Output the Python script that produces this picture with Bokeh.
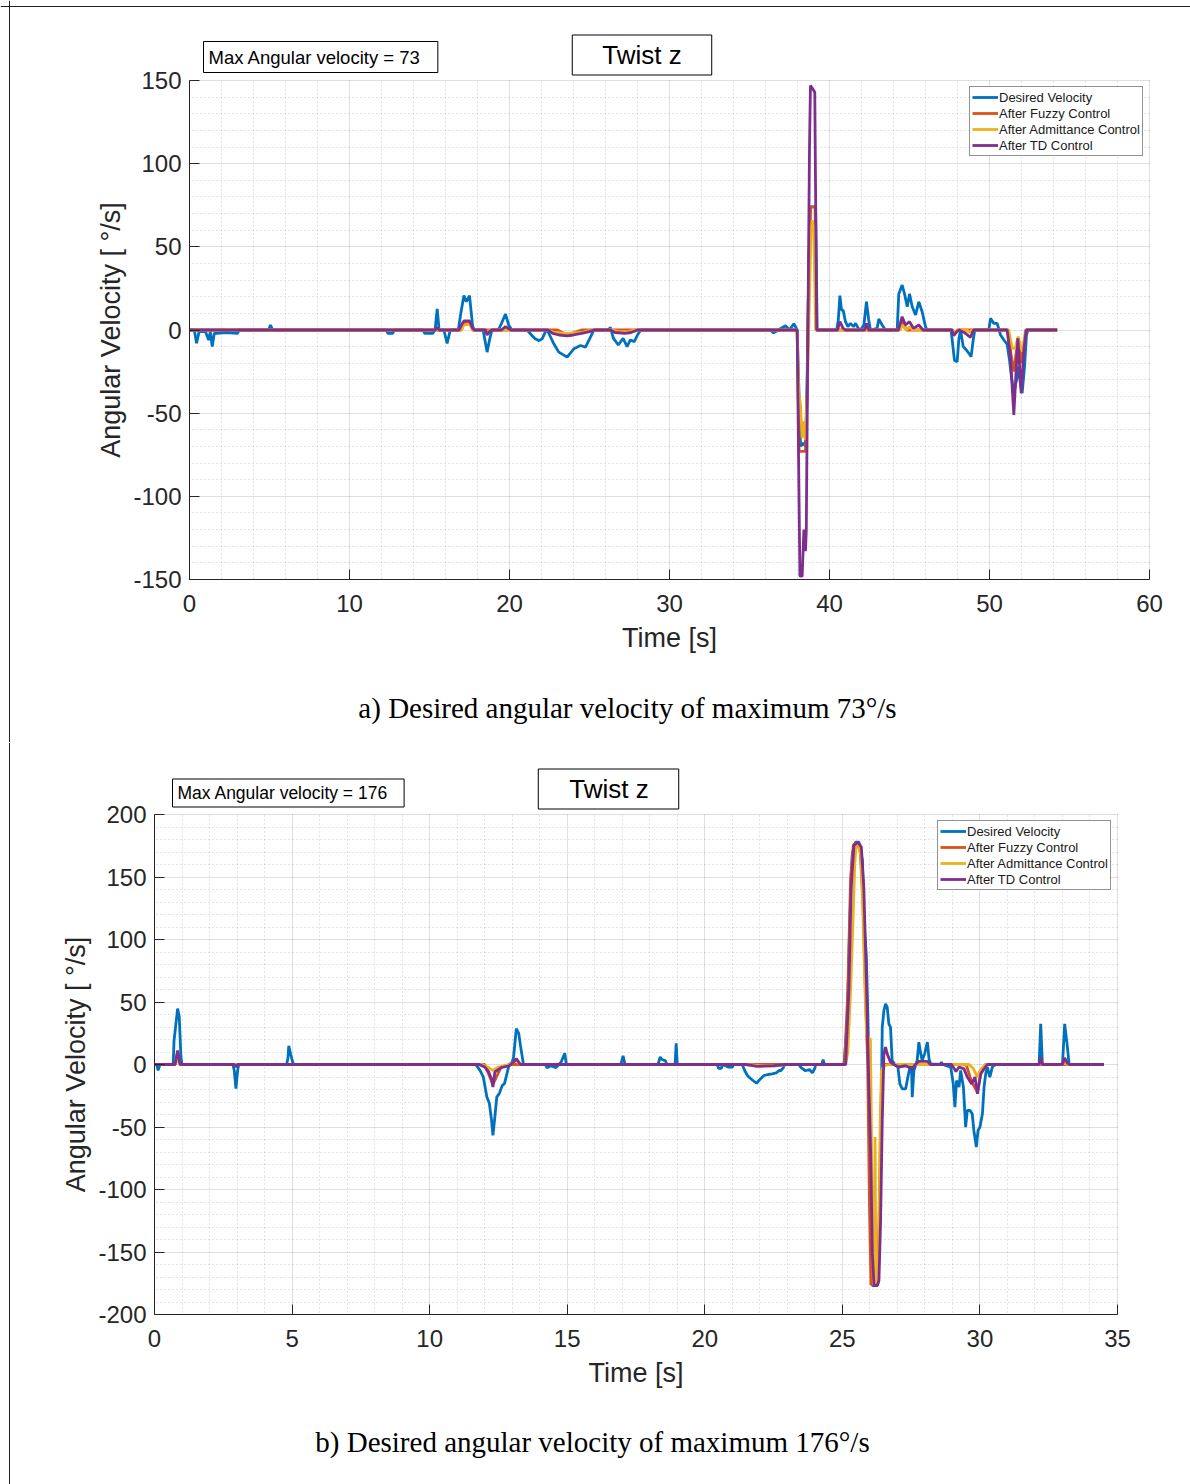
from bokeh.plotting import figure
from bokeh.models import Label, FixedTicker, Range1d, BoxAnnotation, Span
from bokeh.embed import file_html
from bokeh.resources import INLINE

# ---------------- data : panel a ----------------
a_desired_t = [0, 0.3, 0.44, 0.6, 1.0, 1.2, 1.3, 1.42, 1.55, 1.7, 2.3, 3.0, 3.1, 4.95, 5.06, 5.2, 12.3, 12.4, 12.7, 12.8,
               14.6, 14.7, 15.2, 15.35, 15.48, 15.6, 15.9, 16.1, 16.3, 16.8, 16.95, 17.15, 17.3, 17.5, 17.7, 17.8,
               18.35, 18.6, 18.75, 18.9, 19.3, 19.5, 19.75, 19.95, 20.15, 21.1, 21.4, 21.6, 21.85, 22.04, 22.25, 22.36,
               22.77, 23.08, 23.6, 24.02, 24.44, 24.75, 25.06, 25.27, 26.2, 26.3, 26.5, 26.8, 27.1, 27.35, 27.55, 27.8,
               28.0, 28.2, 36.3, 36.5, 36.8, 37.25, 37.5, 37.77, 37.98, 38.1, 38.19, 38.35, 38.5, 38.6, 38.71, 38.81,
               39.13, 39.23, 40.45, 40.55, 40.65, 40.75, 40.85, 41.0, 41.15, 41.31, 41.5, 41.63, 41.8, 41.94, 42.15,
               42.31, 42.45, 42.56, 42.98, 43.08, 43.29, 43.5, 44.23, 44.33, 44.54, 44.69, 44.86, 45.0, 45.17, 45.38,
               45.58, 45.79, 46.0, 46.1, 47.6, 47.67, 47.81, 47.98, 48.08, 48.19, 48.36, 48.55, 48.71, 48.85, 48.98,
               49.08, 49.96, 50.06, 50.27, 50.48, 50.69, 50.9, 51.1, 51.25, 51.37, 51.52, 51.69, 51.79, 51.94, 52.04,
               52.19, 52.31, 52.4, 54.23]
a_desired_v = [0, 0, -8, -1, -1, -6, -1, -10, -2, -2, -1.5, -2, 0, 0, 3, 0, 0, -2, -2, 0,
               0, -2, -2, 0, 12.7, 0, 0, -8, 0, 0, 9.6, 20.7, 17, 20.7, 2, 0,
               0, -13.3, -6, 0, 0, 4, 9.6, 3, 0, 0, -3.3, -5.3, -6.4, -5.3, -1, 0,
               -8.3, -13.3, -16.3, -11.3, -9.3, -10.3, -4.3, 0, 0, 1.6, -5, -9, -5, -10, -6, -7,
               -3, 0, 0, -1.7, 0, 2.6, 0, 3.8, 0, -40, -70, -68, -70, -30, 40, 74,
               74, 0, 0, 6, 20.7, 12, 12, 5, 2, 4, 2, 4, 1, 0, 3,
               17, 6, 0, 1, 6.6, 3, 0, 0, 21.7, 27, 21.7, 14, 21.7, 14, 9,
               17, 11, 2, 0, 0, -6, -18.3, -19, -6, 0, -10, -12, -14, -16, -6,
               0, 0, 7, 4, 4, -3, -6, -8.5, -18, -28, -38, -30, -22, -33, -38,
               -22, -3, 0, 0]

a_fuzzy_t = [0, 17.0, 17.15, 17.5, 17.7, 23.0, 23.6, 24.5, 37.98, 38.1, 38.5, 38.6, 38.71, 38.81, 39.1, 39.18,
             44.4, 44.54, 44.8, 47.7, 47.8, 48.0, 51.15, 51.35, 51.52, 51.69, 51.77, 51.9, 51.98, 52.15, 52.29, 54.23]
a_fuzzy_v = [0, 0, 4.5, 4.5, 0, 0, -3, 0, 0, -73, -73, -40, 40, 74, 74, 0,
             0, 6, 0, 0, -3, 0, 0, -15, -25, -12, -5, -12, -20, -8, 0, 0]

a_admit_t = [0, 17.0, 17.15, 17.5, 17.7, 18.5, 18.6, 18.8, 22.4, 22.8, 23.6, 24.5, 25.1, 26.4, 26.8, 27.4, 27.8,
             37.98, 38.07, 38.19, 38.29, 38.4, 38.5, 38.6, 38.67, 38.75, 38.85, 38.92, 39.02, 39.13,
             44.4, 44.54, 44.8, 45.0, 45.2, 47.7, 47.81, 48.0, 48.6, 48.75, 48.9, 51.2, 51.42, 51.6, 51.79, 51.98,
             52.06, 52.25, 54.23]
a_admit_v = [0, 0, 3, 3.5, 0, 0, -1, 0, 0, -1.5, -2, -1.5, 0, 0, -1, -1, 0,
             0, -37, -45, -65, -55, -66, -40, -12, 20, 60, 66, 62, 0,
             0, 3, 0, 2, 0, 0, -1.4, 0, 0, -1.5, 0, 0, -11, -11, -4, -11,
             -13, 0, 0]

a_td_t = [0, 15.35, 15.48, 15.6, 16.85, 17.0, 17.15, 17.5, 17.7, 17.8, 18.5, 18.6, 18.75, 18.9, 19.5, 19.75, 20.1,
          22.4, 22.7, 23.1, 23.6, 24.0, 24.5, 25.0, 25.3, 26.3, 26.6, 27.2, 27.6, 28.0, 37.98, 38.15, 38.29, 38.4,
          38.5, 38.55, 38.65, 38.75, 38.81, 38.95, 39.08, 39.15, 39.2, 40.5, 40.65, 40.85, 41.0, 42.2, 42.31, 42.45,
          44.3, 44.54, 44.75, 45.0, 45.25, 45.58, 45.85, 47.65, 47.75, 47.95, 48.1, 48.5, 48.81, 49.0, 51.1, 51.3,
          51.52, 51.69, 51.77, 51.87, 51.98, 52.15, 52.29, 54.23]
a_td_v = [0, 0, 1.5, 0, 0, 3, 5.5, 5.5, 1, 0, 0, -3, -1, 0, 0, 2, 0,
          0, -2, -3, -3.5, -3, -2, -1, 0, 0, -1.5, -2, -1.5, 0, 0, -148, -148, -120,
          -133, -120, 0, 110, 147, 145, 143, 60, 0, 0, 5, 1, 0, 0, 4, 0,
          0, 8, 3, 5, 1, 3, 0, 0, -3.4, -1, 0, -2, -4.4, 0, 0, -15,
          -51, -20, -5, -20, -38, -12, 0, 0]

a_x_ticks = [0, 10, 20, 30, 40, 50, 60]
a_x_labels = ["0", "10", "20", "30", "40", "50", "60"]
a_y_ticks = [-150, -100, -50, 0, 50, 100, 150]
a_y_labels = ["-150", "-100", "-50", "0", "50", "100", "150"]
a_max_text = "Max Angular velocity = 73"
a_caption = "a) Desired angular velocity of maximum 73°/s"

# ---------------- data : panel b ----------------
b_desired_t = [0, 0.08, 0.13, 0.2, 0.68, 0.71, 0.84, 0.9, 0.96, 1.0, 2.85, 2.9, 2.96, 3.02, 3.06, 4.8, 4.85, 4.88,
               4.95, 5.01, 5.05, 11.65, 11.7, 11.83, 11.95, 12.08, 12.17, 12.25, 12.3, 12.37, 12.44, 12.53, 12.64,
               12.72, 12.81, 12.89, 13.0, 13.05, 13.15, 13.24, 13.3, 13.41, 14.2, 14.27, 14.4, 14.59, 14.7, 14.78,
               14.91, 14.97, 16.95, 17.03, 17.1, 18.3, 18.38, 18.45, 18.57, 18.62, 18.92, 18.96, 19.0, 20.45, 20.5,
               20.6, 20.65, 20.85, 21.0, 21.05, 21.36, 21.45, 21.55, 21.6, 21.75, 21.88, 22.0, 22.15, 22.3, 22.45,
               22.6, 22.7, 22.76, 22.85, 22.9, 23.42, 23.5, 23.66, 23.8, 23.91, 24.0, 24.03, 24.25, 24.3, 24.35,
               25.06, 25.18, 25.27, 25.36, 25.48, 25.6, 25.73, 25.78, 25.87, 25.93, 26.0, 26.05, 26.09, 26.27,
               26.33, 26.39, 26.45, 26.51, 26.57, 26.63, 26.69, 26.75, 26.81, 26.94, 27.02, 27.09, 27.18, 27.3,
               27.38, 27.46, 27.51, 27.54, 27.6, 27.72, 27.78, 27.84, 27.9, 27.99, 28.09, 28.15, 28.21, 28.55,
               28.6, 28.65, 28.94, 29.03, 29.09, 29.15, 29.24, 29.3, 29.4, 29.48, 29.54, 29.64, 29.72, 29.78, 29.87,
               29.93, 30.0, 30.09, 30.15, 30.21, 30.27, 30.36, 30.45, 30.51, 30.6, 32.15, 32.21, 32.27, 33.0, 33.08,
               33.18, 33.24, 34.51]
b_desired_v = [0, 0, -4.7, 0, 0, 19, 44.7, 38, 6, 0, 0, -5, -19.3, -5, 0, 0, 5, 15,
               8, 3, 0, 0, -0.7, -4.7, -10, -26, -31, -44.7, -56.7, -42, -26, -23.3, -16.7,
               -15.3, -7.3, 0, 2, 6, 28.7, 24.7, 15.3, 0, 0, -2.7, -1, -2.5, 0, 2,
               9, 0, 0, 7, 0, 0, 6, 4, 3, 0, 0, 17, 0, 0, -3,
               -3, 0, -2, -2, 0, 0, -4.8, -8.8, -10, -12.8, -15, -12, -8.8, -8, -7.5,
               -6.7, -4.8, -5, -2.7, 0, 0, -2.5, -5, -4, -6.7, -3, 0, 0, 4, 0,
               0, 35.2, 115, 168.5, 177.9, 177.9, 163, 115, 88, 35, -44.8, -124.8, -176.8, -176.8,
               -151.5, -71.5, 29.9, 43.2, 48.5, 45.9, 32.5, 29.9, 3.2, -0.8, -2.1, -15.5, -19.5, -19.5,
               -10.1, -2.1, 0.5, -26.1, -4.8, 3.2, 17.9, 9.9, 3.2, 8.5, 17.9, 4.5, 0.5, 0,
               1.9, 0, -2.1, -15.5, -34.1, -12.8, -18.1, -4.8, -18.1, -50.1, -36.8, -36.8, -39.5, -52.8, -66.1,
               -52.8, -50.1, -39.5, -18.1, -7.5, -2.1, -10.1, -2.1, -0.8, 0, 0, 32.5, 0, 0, 32.5,
               13.9, 0, 0]

b_fuzzy_t = [0, 0.75, 0.84, 0.93, 12.0, 12.3, 12.6, 12.9, 25.08, 25.2, 25.3, 25.4, 25.55, 25.65, 25.75, 25.85,
             25.92, 25.99, 26.04, 26.25, 26.32, 26.38, 26.45, 26.55, 29.5, 29.7, 29.91, 30.03, 30.2, 34.51]
b_fuzzy_v = [0, 0, 10, 0, 0, -16, -2, 0, 0, 60, 150, 176, 177, 170, 130, 50,
             0, -120, -176, -176, -140, -60, -5, 0, 0, -14, -22, -7, 0, 0]

b_admit_t = [0, 0.75, 0.84, 0.93, 11.9, 12.1, 12.3, 12.5, 12.9, 13.15, 13.3, 21.5, 22.0, 22.6, 23.0, 25.12,
             25.2, 25.3, 25.38, 25.45, 25.5, 25.6, 25.68, 25.75, 25.82, 25.88, 25.95, 26.02, 26.06, 26.1, 26.13,
             26.16, 26.19, 26.22, 26.3, 26.34, 26.38, 26.42, 26.5, 26.7, 29.6, 29.75, 29.91, 30.0, 30.2, 32.15,
             32.21, 32.27, 33.0, 33.08, 33.18, 34.51]
b_admit_v = [0, 0, 4, 0, 0, -2, -4.7, -2, 0, 3, 0, 0, -1, -1, 0, 0,
             10, 60, 110, 160, 176, 176, 165, 120, 60, 25, 22, 20, -60, -150, -176,
             -176, -58, -176, -176, -120, -40, -5, -1, 0, 0, -3, -10, -5, 0, 0,
             1, 0, 0, 1, 0, 0]

b_td_t = [0, 0.75, 0.84, 0.93, 2.9, 2.96, 3.02, 11.8, 12.0, 12.15, 12.25, 12.3, 12.37, 12.6, 12.9, 13.05, 13.15,
          13.3, 21.5, 21.9, 22.5, 22.9, 25.12, 25.24, 25.32, 25.42, 25.57, 25.69, 25.78, 25.88, 25.94, 26.03,
          26.09, 26.15, 26.27, 26.33, 26.39, 26.45, 26.51, 26.57, 26.63, 26.75, 26.87, 27.05, 27.3, 27.54, 27.65,
          27.78, 28.09, 28.2, 28.97, 29.13, 29.24, 29.42, 29.54, 29.7, 29.82, 29.91, 29.97, 30.03, 30.15, 30.27,
          32.15, 32.21, 32.27, 33.0, 33.08, 33.18, 33.24, 34.51]
b_td_v = [0, 0, 11.3, 0, 0, -2, 0, 0, -2, -6, -12, -18, -6, -2.5, -1, 2, 4.7,
          0, 0, -1.5, -1, 0, 0, 61.9, 141.9, 175.2, 177.9, 173.9, 141.9, 61.9, 0.5, -71.5,
          -151.5, -176.8, -176.8, -172.8, -124.8, -44.8, 8.5, 13.9, 8.5, 1.9, 0, -2, -1, -3.5, 0,
          2.5, 2.5, 0, 0, -5.6, -2, -3.5, -10, -15.5, -10, -23.5, -15.5, -7.5, -3.5, 0,
          0, 5.3, 0, 0, 5.3, 1, 0, 0]

b_x_ticks = [0, 5, 10, 15, 20, 25, 30, 35]
b_x_labels = ["0", "5", "10", "15", "20", "25", "30", "35"]
b_y_ticks = [-200, -150, -100, -50, 0, 50, 100, 150, 200]
b_y_labels = ["-200", "-150", "-100", "-50", "0", "50", "100", "150", "200"]
b_max_text = "Max Angular velocity = 176"
b_caption = "b) Desired angular velocity of maximum 176°/s"

series_names = ["Desired Velocity", "After Fuzzy Control", "After Admittance Control", "After TD Control"]
series_colors = ["#0072BD", "#D95319", "#EDB120", "#7E2F8E"]

AX = "#262626"
SANS = "Liberation Sans"
W, H = 1190, 742


def make_panel(series, x_ticks, x_labels, y_ticks, y_labels, minor_x, minor_y, box, top_line,
               max_text, max_font, max_pos, max_pad, twist_pos, twist_pad,
               caption, caption_pos, legend_pos):
    # box = (left, right, top, bottom) of the axes box in canvas pixels; the data frame fills the canvas
    bl, br, bt, bb = box
    x0, x1 = x_ticks[0], x_ticks[-1]
    y0, y1 = y_ticks[0], y_ticks[-1]
    ppx = (br - bl) / (x1 - x0)
    ppy = (bb - bt) / (y1 - y0)
    p = figure(width=W, height=H, output_backend="svg", toolbar_location=None,
               x_range=Range1d(x0 - bl / ppx, x1 + (W - br) / ppx),
               y_range=Range1d(y0 - (H - bb) / ppy, y1 + bt / ppy),
               min_border=0)
    p.outline_line_color = None
    p.background_fill_color = "white"
    p.border_fill_color = "white"

    for g in (p.xgrid[0], p.ygrid[0]):
        g.grid_line_color = AX
        g.grid_line_alpha = 0.15
        g.minor_grid_line_color = AX
        g.minor_grid_line_alpha = 0.25
        g.minor_grid_line_dash = "1 3"
    p.xgrid.ticker = FixedTicker(ticks=x_ticks, minor_ticks=minor_x)
    p.ygrid.ticker = FixedTicker(ticks=y_ticks, minor_ticks=minor_y)
    # blank out the grid outside the axes box
    ex, ey = 0.6 / ppx, 0.6 / ppy
    for kw in (dict(bottom=y1 + ey), dict(top=y0 - ey), dict(right=x0 - ex), dict(left=x1 + ex)):
        p.add_layout(BoxAnnotation(fill_color="white", fill_alpha=1, line_color=None, level="underlay", **kw))

    for (t, v), name, col in zip(series, series_names, series_colors):
        p.line(t, v, line_color=col, line_width=2.8, legend_label=name)

    p.xaxis.ticker = FixedTicker(ticks=x_ticks, minor_ticks=minor_x)
    p.yaxis.ticker = FixedTicker(ticks=y_ticks, minor_ticks=minor_y)
    p.xaxis.major_label_overrides = dict(zip(x_ticks, x_labels))
    p.yaxis.major_label_overrides = dict(zip(y_ticks, y_labels))
    p.xaxis.fixed_location = y0
    p.yaxis.fixed_location = x0
    p.xaxis.bounds = (x0, x1)
    p.yaxis.bounds = (y0, y1)
    p.xaxis.axis_label = "Time [s]"
    p.yaxis.axis_label = "Angular Velocity [ °/s]"
    for ax in (p.xaxis[0], p.yaxis[0]):
        ax.axis_line_color = AX
        ax.axis_line_width = 1
        ax.major_tick_line_color = AX
        ax.major_tick_in = 10
        ax.major_tick_out = 0
        ax.minor_tick_in = 0
        ax.minor_tick_out = 0
        ax.major_label_text_font = SANS
        ax.major_label_text_font_size = "24px"
        ax.major_label_text_color = AX
        ax.axis_label_text_font = SANS
        ax.axis_label_text_font_size = "27px"
        ax.axis_label_text_font_style = "normal"
        ax.axis_label_text_color = AX
    p.xaxis.major_label_standoff = 15
    p.xaxis.axis_label_standoff = 8
    p.yaxis.major_label_standoff = 8
    p.yaxis.axis_label_standoff = 4

    leg = p.legend[0]
    leg.location = legend_pos
    leg.padding = 2
    leg.spacing = 0
    leg.label_standoff = 1
    leg.glyph_width = 26
    leg.glyph_height = 16
    leg.label_height = 16
    leg.label_text_font = SANS
    leg.label_text_font_size = "13px"
    leg.label_text_color = "#1a1a1a"
    leg.border_line_color = AX
    leg.border_line_width = 1
    leg.background_fill_alpha = 1

    # page frame lines
    p.add_layout(Span(location=9, location_units="screen", dimension="height", line_color="#222222", line_width=1))
    if top_line is not None:
        p.add_layout(Span(location=H - top_line, location_units="screen", dimension="width",
                          line_color="#222222", line_width=1))

    p.add_layout(Label(x=max_pos[0], y=max_pos[1], x_units="screen", y_units="screen", text=max_text,
                       text_font=SANS, text_font_size=max_font, text_color="#000000",
                       text_align="left", text_baseline="middle",
                       border_line_color="#000000", border_line_width=1,
                       background_fill_color="white", padding=max_pad))
    p.add_layout(Label(x=twist_pos[0], y=twist_pos[1], x_units="screen", y_units="screen", text="Twist z",
                       text_font=SANS, text_font_size="26px", text_color="#000000",
                       text_align="center", text_baseline="middle",
                       border_line_color="#000000", border_line_width=1,
                       background_fill_color="white", padding=twist_pad))
    p.add_layout(Label(x=caption_pos[0], y=caption_pos[1], x_units="screen", y_units="screen", text=caption,
                       text_font="Liberation Serif", text_font_size="29px", text_color="#000000",
                       text_align="center", text_baseline="middle"))
    return p


minor_a_x = [v for v in range(0, 61, 2) if v % 10]
minor_a_y = [v for v in range(-150, 151, 10) if v % 50]
minor_b_x = [v for v in range(0, 36, 1) if v % 5]
minor_b_y = [v for v in range(-200, 201, 10) if v % 50]

p1 = make_panel([(a_desired_t, a_desired_v), (a_fuzzy_t, a_fuzzy_v), (a_admit_t, a_admit_v), (a_td_t, a_td_v)],
                a_x_ticks, a_x_labels, a_y_ticks, a_y_labels, minor_a_x, minor_a_y,
                (189, 1149, 80, 579), 6,
                a_max_text, "18.5px", (203, H - 56.5), dict(left=5, right=17, top=5, bottom=5),
                (641.5, H - 54.5), dict(left=30, right=30, top=5, bottom=5),
                a_caption, (627, H - 707), (969, H - 156))
p2 = make_panel([(b_desired_t, b_desired_v), (b_fuzzy_t, b_fuzzy_v), (b_admit_t, b_admit_v), (b_td_t, b_td_v)],
                b_x_ticks, b_x_labels, b_y_ticks, b_y_labels, minor_b_x, minor_b_y,
                (154, 1117, 72, 572), None,
                b_max_text, "17.5px", (172, H - 50.5), dict(left=5, right=16, top=4, bottom=4),
                (608, H - 46.5), dict(left=31, right=30, top=5, bottom=5),
                b_caption, (592, H - 699), (937, H - 148))

open("out.html", "w").write(file_html([p1, p2], INLINE))
